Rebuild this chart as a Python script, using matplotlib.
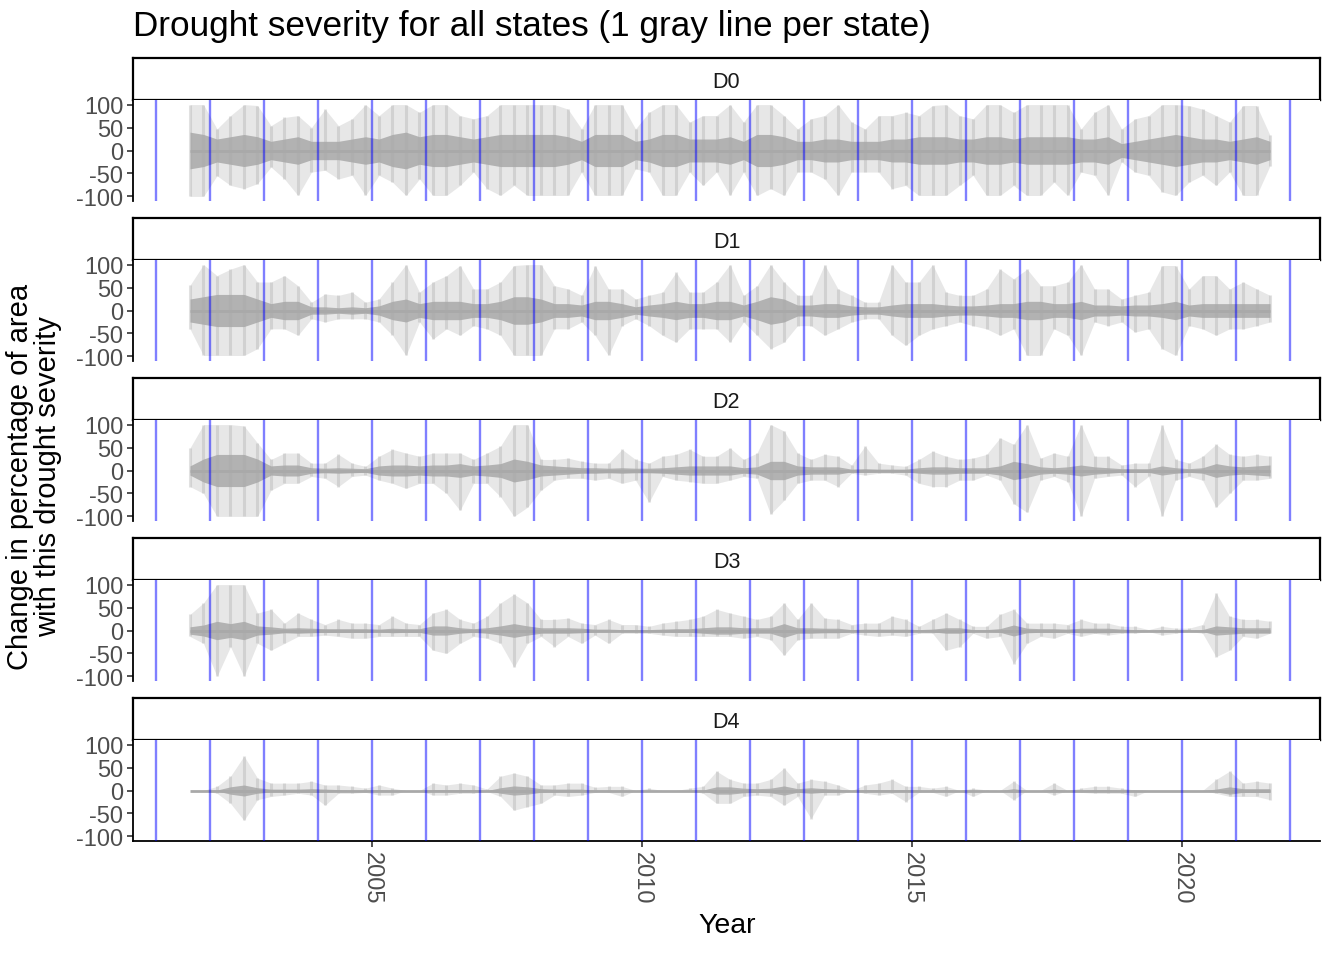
"""Faceted drought-severity chart: weekly change per state, one facet per level."""

import matplotlib

matplotlib.use("Agg")

import matplotlib.pyplot as plt
import numpy as np
import pandas as pd

W, H = 1338, 962

# quarterly bins from 2001 Q3 to 2021 Q3 (81 bins); values are read off the
# reference: highest spike, lowest spike and half-width of the dense core
quarters = pd.period_range("2001Q3", "2021Q3", freq="Q")

d0_up = [100, 100, 47, 76, 100, 98, 54, 72, 76, 50, 90, 54, 69, 100, 76, 100, 100, 83, 100, 100, 76, 69, 76, 100, 100, 100,
         100, 100, 90, 47, 100, 100, 100, 47, 83, 100, 100, 62, 76, 76, 100, 62, 100, 100, 76, 47, 69, 76, 100, 62, 47, 76, 76,
         83, 76, 98, 100, 76, 69, 100, 100, 83, 100, 100, 100, 100, 47, 83, 100, 47, 69, 76, 100, 100, 98, 90, 76, 62, 98, 98, 33]
d0_down = [-100, -100, -55, -76, -83, -72, -36, -62, -98, -47, -43, -62, -54, -98, -54, -69, -98, -62, -98, -98, -76, -47, -83, -98, -76, -98,
           -98, -98, -98, -47, -98, -98, -98, -40, -47, -98, -98, -47, -76, -47, -98, -47, -98, -83, -98, -47, -47, -62, -98, -47, -47, -47, -83,
           -76, -98, -98, -98, -76, -54, -98, -98, -76, -98, -98, -69, -98, -47, -54, -98, -25, -47, -54, -90, -98, -69, -54, -76, -47, -98, -98, -33]
d0_core = [40, 35, 25, 30, 35, 30, 20, 25, 30, 20, 20, 20, 25, 30, 25, 35, 40, 30, 35, 35, 30, 25, 30, 35, 35, 35,
           35, 35, 30, 20, 35, 35, 35, 20, 25, 35, 35, 25, 25, 25, 30, 20, 35, 35, 30, 20, 20, 25, 25, 20, 20, 20, 25,
           25, 30, 30, 30, 25, 25, 30, 30, 25, 30, 30, 30, 30, 25, 25, 30, 15, 20, 25, 30, 35, 30, 25, 25, 20, 25, 30, 20]

d1_up = [55, 100, 76, 90, 100, 62, 62, 76, 54, 18, 36, 33, 40, 18, 25, 62, 100, 40, 62, 76, 98, 47, 47, 62, 98, 100,
         100, 54, 47, 33, 98, 47, 47, 25, 33, 40, 83, 40, 40, 62, 100, 33, 54, 100, 62, 33, 33, 100, 47, 33, 18, 18, 100,
         62, 62, 100, 40, 33, 33, 47, 90, 69, 90, 54, 54, 62, 100, 47, 47, 25, 33, 40, 98, 98, 47, 76, 76, 47, 62, 47, 33]
d1_down = [-40, -98, -98, -98, -98, -83, -40, -40, -54, -18, -25, -18, -18, -18, -25, -54, -98, -25, -62, -40, -54, -33, -40, -54, -98, -98,
           -98, -40, -40, -25, -54, -98, -33, -18, -33, -54, -69, -40, -40, -40, -69, -25, -54, -83, -69, -33, -33, -54, -40, -25, -18, -18, -54,
           -76, -54, -40, -33, -25, -33, -40, -54, -40, -98, -98, -40, -54, -98, -25, -33, -25, -47, -40, -83, -98, -33, -40, -54, -40, -40, -33, -25]
d1_core = [25, 30, 35, 35, 35, 25, 15, 20, 20, 8, 8, 6, 8, 6, 10, 20, 25, 15, 20, 20, 20, 15, 15, 20, 30, 30,
           25, 15, 15, 12, 20, 20, 15, 8, 12, 15, 20, 15, 15, 20, 20, 12, 20, 30, 25, 12, 12, 15, 15, 10, 8, 8, 12,
           15, 15, 15, 12, 10, 10, 12, 15, 15, 20, 20, 15, 15, 20, 12, 12, 10, 12, 12, 15, 20, 12, 15, 15, 15, 15, 15, 15]

d2_up = [49, 100, 100, 100, 97, 60, 24, 38, 38, 16, 16, 35, 16, 9, 31, 46, 38, 31, 38, 38, 38, 24, 38, 53, 100, 100,
         24, 24, 27, 20, 16, 16, 46, 24, 16, 31, 35, 46, 31, 31, 49, 24, 38, 100, 86, 38, 24, 35, 31, 12, 53, 16, 12,
         9, 24, 42, 31, 24, 27, 35, 71, 57, 100, 27, 38, 31, 100, 31, 31, 12, 16, 16, 100, 24, 16, 31, 57, 35, 31, 35, 31]
d2_down = [-35, -50, -100, -100, -100, -100, -43, -28, -28, -13, -17, -35, -13, -10, -21, -28, -39, -28, -28, -50, -87, -28, -28, -57, -100, -80,
           -43, -21, -17, -17, -21, -17, -28, -21, -69, -13, -21, -24, -28, -28, -21, -13, -17, -95, -65, -28, -21, -21, -35, -6, -10, -6, -6,
           -10, -28, -35, -35, -21, -21, -10, -21, -72, -91, -21, -13, -24, -100, -17, -13, -10, -35, -13, -100, -21, -13, -21, -80, -50, -21, -21, -17]
d2_core = [10, 25, 35, 35, 35, 25, 10, 12, 12, 6, 5, 6, 5, 4, 10, 12, 12, 10, 12, 12, 15, 10, 12, 15, 25, 20,
           12, 10, 8, 6, 6, 5, 6, 5, 5, 6, 8, 10, 10, 10, 10, 6, 8, 20, 20, 10, 8, 8, 8, 3, 4, 3, 3,
           3, 6, 8, 8, 6, 6, 6, 10, 20, 15, 8, 6, 8, 12, 8, 6, 4, 4, 4, 10, 6, 4, 6, 15, 10, 8, 10, 12]

d3_up = [35, 60, 100, 100, 100, 38, 46, 16, 38, 24, 13, 24, 16, 16, 13, 31, 16, 13, 38, 46, 24, 16, 31, 60, 79, 60,
         24, 24, 27, 16, 13, 24, 13, 13, 9, 16, 20, 24, 31, 46, 38, 31, 24, 31, 60, 24, 60, 27, 24, 13, 16, 16, 31,
         24, 9, 24, 38, 24, 9, 9, 35, 46, 16, 16, 16, 13, 24, 16, 16, 9, 9, 2, 9, 5, 5, 13, 82, 31, 24, 24, 20]
d3_down = [-13, -28, -100, -35, -100, -28, -43, -28, -13, -13, -10, -13, -17, -17, -13, -13, -13, -13, -43, -50, -28, -13, -17, -28, -80, -28,
           -13, -35, -13, -28, -10, -28, -6, -6, -6, -10, -13, -13, -13, -13, -13, -17, -13, -20, -54, -20, -17, -17, -17, -6, -10, -13, -10,
           -13, -6, -6, -43, -35, -6, -17, -13, -72, -28, -13, -17, -6, -13, -6, -10, -6, -6, -2, -10, -6, -2, -6, -57, -43, -13, -17, -6]
d3_core = [8, 12, 20, 15, 20, 10, 8, 5, 6, 5, 4, 4, 4, 4, 3, 5, 4, 4, 10, 10, 6, 4, 6, 10, 15, 10,
           6, 6, 6, 5, 3, 3, 2, 2, 2, 3, 4, 4, 6, 8, 8, 6, 6, 6, 15, 6, 6, 5, 5, 2, 3, 3, 3,
           3, 2, 3, 6, 6, 2, 2, 4, 12, 5, 4, 4, 3, 5, 5, 5, 3, 2, 1, 2, 1, 1, 2, 10, 8, 6, 6, 6]

d4_up = [0, 0, 9, 31, 75, 27, 16, 16, 16, 20, 12, 12, 9, 5, 12, 5, 0, 0, 16, 12, 16, 12, 3, 31, 38, 31,
         12, 12, 16, 16, 7, 9, 9, 0, 5, 0, 0, 5, 9, 42, 24, 16, 16, 24, 49, 16, 24, 20, 12, 0, 12, 16, 24,
         9, 9, 5, 9, 0, 5, 1, 0, 20, 0, 0, 16, 0, 5, 9, 9, 5, 1, 0, 0, 0, 0, 0, 24, 42, 16, 20, 16]
d4_down = [0, 0, -6, -28, -65, -20, -13, -10, -6, -10, -32, -6, -6, -4, -10, -10, 0, 0, -10, -10, -6, -6, -2, -13, -43, -35,
           -28, -10, -13, -10, -4, -4, -13, 0, 0, 0, 0, 0, -6, -28, -28, -13, -10, -13, -32, -13, -61, -10, -10, 0, -6, -10, -6,
           -24, -4, -4, -13, 0, -13, 0, 0, -20, 0, 0, -10, 0, -4, -6, -6, -6, -13, 0, 0, 0, 0, 0, -6, -13, -13, -13, -20]
d4_core = [0, 0, 1, 8, 12, 6, 3, 3, 3, 4, 3, 2, 1, 1, 2, 1, 0, 0, 2, 2, 2, 2, 0, 6, 10, 8,
           4, 3, 3, 3, 1, 1, 1, 0, 0, 0, 0, 0, 1, 8, 8, 5, 4, 5, 10, 4, 6, 4, 3, 0, 2, 2, 2,
           2, 1, 1, 2, 0, 1, 0, 0, 4, 0, 0, 3, 0, 1, 2, 2, 1, 1, 0, 0, 0, 0, 0, 3, 8, 4, 4, 4]

levels = ["D0", "D1", "D2", "D3", "D4"]
series = {
    "D0": (d0_up, d0_down, d0_core),
    "D1": (d1_up, d1_down, d1_core),
    "D2": (d2_up, d2_down, d2_core),
    "D3": (d3_up, d3_down, d3_core),
    "D4": (d4_up, d4_down, d4_core),
}
year_marks = list(range(2001, 2023))
x_ticks = [2005, 2010, 2015, 2020]
y_ticks = [-100, -50, 0, 50, 100]

GRAY = "#A9A9A9"
BLUE = (0.0, 0.0, 1.0, 0.5)
FONT = "Liberation Sans"


def fig_box(x0, y0, x1, y1):
    """pixel box (top-left origin) -> figure fraction rect"""
    return [x0 / W, 1 - y1 / H, (x1 - x0) / W, (y1 - y0) / H]


def quarter_centres():
    return np.array([q.year + (q.quarter - 1) * 0.25 + 0.125 for q in quarters])


def draw_panel(ax, t, up, down, core, bottom):
    up, down, core = np.array(up), np.array(down), np.array(core)
    ax.fill_between(t, down, up, color=GRAY, alpha=0.28, lw=0)
    ax.vlines(t, down, up, color=GRAY, alpha=0.35, lw=2.2)
    ax.fill_between(t, -core, core, color=GRAY, alpha=0.85, lw=0)
    ax.hlines(0, t[0], t[-1], color=GRAY, lw=2.0)
    for yr in year_marks:
        ax.axvline(yr, color=BLUE, lw=1.7, zorder=4)

    ax.set_xlim(2000.57, 2022.55)
    ax.set_ylim(-110, 110)
    ax.set_yticks(y_ticks)
    ax.set_yticklabels([str(v) for v in y_ticks], fontsize=17, color="#4D4D4D", family=FONT)
    ax.set_xticks(x_ticks)
    for side in ["top", "right"]:
        ax.spines[side].set_visible(False)
    ax.spines["left"].set_linewidth(1.3)
    ax.spines["left"].set_color("black")
    ax.tick_params(axis="y", length=4, width=1.2, color="#333333", pad=3)
    if bottom:
        ax.spines["bottom"].set_linewidth(1.3)
        ax.spines["bottom"].set_color("black")
        ax.set_xticklabels([str(v) for v in x_ticks], rotation=-90, fontsize=17,
                           color="#4D4D4D", family=FONT)
        ax.tick_params(axis="x", length=4, width=1.2, color="#333333", pad=3)
    else:
        ax.spines["bottom"].set_visible(False)
        ax.tick_params(axis="x", length=0, labelbottom=False)


def draw_strip(fig, label, y0):
    sax = fig.add_axes(fig_box(133, y0, 1320, y0 + 42))
    sax.set_xticks([])
    sax.set_yticks([])
    for sp in sax.spines.values():
        sp.set_linewidth(1.6)
        sp.set_color("black")
    sax.text(0.5, 0.45, label, ha="center", va="center", fontsize=15.5, color="#1A1A1A",
             family=FONT, transform=sax.transAxes)


def main():
    t = quarter_centres()
    fig = plt.figure(figsize=(W / 100, H / 100), dpi=100)
    fig.patch.set_facecolor("white")

    for i, lvl in enumerate(levels):
        top = 59 + 160 * i
        draw_strip(fig, lvl, top)
        ax = fig.add_axes(fig_box(133, top + 42, 1320, top + 143))
        up, down, core = series[lvl]
        draw_panel(ax, t, up, down, core, bottom=(i == len(levels) - 1))

    fig.text(133 / W, 1 - 36 / H, "Drought severity for all states (1 gray line per state)",
             ha="left", va="baseline", fontsize=25.3, color="black", family=FONT)
    fig.text(727 / W, 1 - 926 / H, "Year", ha="center", va="center", fontsize=20.5,
             color="black", family=FONT)
    fig.text(34 / W, 1 - 477 / H,
             "Change in percentage of area\nwith this drought severity",
             ha="center", va="center", rotation=90, fontsize=21, color="black",
             family=FONT, multialignment="center", linespacing=1.0)

    fig.savefig("out.png", dpi=100, facecolor="white")
    plt.close(fig)


if __name__ == "__main__":
    main()
